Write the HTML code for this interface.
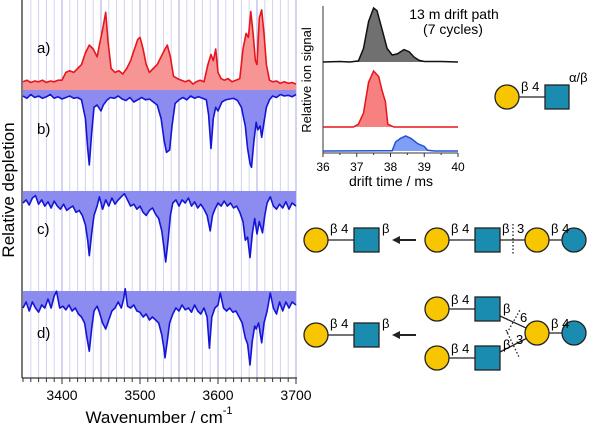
<!DOCTYPE html>
<html><head><meta charset="utf-8"><style>
body{margin:0;background:#fff}
svg{display:block;font-family:"Liberation Sans",sans-serif}
</style></head><body>
<svg id="fig" width="600" height="429" viewBox="0 0 600 429">
<g id="grid"></g>
<g id="spec"></g>
<g id="axes"></g>
<g id="drift"></g>
<text x="14" y="190" font-size="17" text-anchor="middle" transform="rotate(-90 14 190)">Relative depletion</text>
<text x="159" y="423" font-size="17" text-anchor="middle">Wavenumber / cm<tspan dy="-9" font-size="11">-1</tspan></text>
<text x="37" y="53" font-size="15">a)</text>
<text x="37" y="134" font-size="15">b)</text>
<text x="37" y="234" font-size="15">c)</text>
<text x="37" y="338" font-size="15">d)</text>
<g id="glycans" stroke="#222" stroke-width="1.3" font-size="13">
 <line x1="507" y1="97" x2="548" y2="97"/>
 <circle cx="507" cy="97" r="12" fill="#f7c600"/>
 <rect x="545" y="85" width="24" height="24" fill="#1a8cb0"/>
 <text x="521" y="91" stroke="none">β 4</text>
 <text x="569" y="82" stroke="none">α/β</text>
 <line x1="316" y1="240" x2="356" y2="240"/>
 <circle cx="316" cy="240" r="12" fill="#f7c600"/>
 <rect x="354" y="228" width="25" height="24" fill="#1a8cb0"/>
 <text x="330" y="233" stroke="none">β 4</text>
 <text x="382" y="233" stroke="none">β</text>
 <line x1="416" y1="240" x2="398" y2="240" stroke-width="2"/>
 <polygon points="392,240 400,236 400,244" fill="#222" stroke="none"/>
 <line x1="437" y1="240" x2="574" y2="240"/>
 <circle cx="437" cy="240" r="12" fill="#f7c600"/>
 <rect x="475" y="228" width="25" height="24" fill="#1a8cb0"/>
 <circle cx="537" cy="240" r="12" fill="#f7c600"/>
 <circle cx="574" cy="240" r="12" fill="#1a8cb0"/>
 <line x1="513" y1="224" x2="513" y2="255" stroke-dasharray="1.5,2"/>
 <text x="451" y="233" stroke="none">β 4</text>
 <text x="502" y="233" stroke="none">β</text>
 <text x="517" y="233" stroke="none">3</text>
 <text x="551" y="233" stroke="none">β 4</text>
 <line x1="316" y1="335" x2="356" y2="335"/>
 <circle cx="316" cy="335" r="12" fill="#f7c600"/>
 <rect x="354" y="323" width="25" height="24" fill="#1a8cb0"/>
 <text x="330" y="328" stroke="none">β 4</text>
 <text x="382" y="328" stroke="none">β</text>
 <line x1="416" y1="335" x2="398" y2="335" stroke-width="2"/>
 <polygon points="392,335 400,331 400,339" fill="#222" stroke="none"/>
 <line x1="437" y1="309" x2="487" y2="309"/>
 <line x1="437" y1="358" x2="487" y2="358"/>
 <line x1="500" y1="316" x2="537" y2="333"/>
 <line x1="500" y1="352" x2="537" y2="333"/>
 <line x1="537" y1="333" x2="574" y2="333"/>
 <circle cx="437" cy="309" r="12" fill="#f7c600"/>
 <rect x="475" y="297" width="25" height="24" fill="#1a8cb0"/>
 <circle cx="437" cy="358" r="12" fill="#f7c600"/>
 <rect x="475" y="346" width="25" height="24" fill="#1a8cb0"/>
 <circle cx="537" cy="333" r="12" fill="#f7c600"/>
 <circle cx="574" cy="333" r="12" fill="#1a8cb0"/>
 <line x1="507" y1="333" x2="520" y2="310" stroke-dasharray="1.5,2"/>
 <line x1="506" y1="330" x2="519" y2="357" stroke-dasharray="1.5,2"/>
 <text x="451" y="304" stroke="none">β 4</text>
 <text x="451" y="353" stroke="none">β 4</text>
 <text x="503" y="313" stroke="none">β</text>
 <text x="520" y="322" stroke="none">6</text>
 <text x="503" y="349" stroke="none">β</text>
 <text x="516" y="344" stroke="none">3</text>
 <text x="551" y="328" stroke="none">β 4</text>
</g>
</svg>
<script>
const NS="http://www.w3.org/2000/svg";
const specA=[[3350,.08],[3355,.1],[3360,.07],[3365,.09],[3370,.08],[3375,.1],[3380,.07],[3385,.09],[3390,.08],[3395,.1],[3400,.1],[3405,.2],[3410,.22],[3415,.2],[3420,.25],[3425,.3],[3430,.45],[3435,.55],[3440,.5],[3445,.4],[3448,.55],[3452,.75],[3456,.97],[3459,.6],[3463,.25],[3468,.2],[3473,.22],[3478,.18],[3483,.25],[3488,.35],[3493,.5],[3497,.62],[3500,.65],[3504,.5],[3508,.3],[3512,.2],[3517,.25],[3522,.3],[3527,.4],[3532,.5],[3535,.55],[3539,.4],[3543,.15],[3548,.12],[3553,.1],[3558,.08],[3563,.1],[3568,.05],[3572,.08],[3577,.1],[3582,.08],[3587,.3],[3591,.43],[3594,.35],[3597,.5],[3600,.2],[3604,.12],[3608,.1],[3613,.12],[3618,.08],[3623,.1],[3628,.12],[3632,.5],[3636,.7],[3639,.65],[3642,.98],[3645,.7],[3648,.35],[3650,.3],[3653,.9],[3656,1.0],[3659,.7],[3662,.3],[3666,.1],[3670,.08],[3675,.09],[3680,.06],[3685,.08],[3690,.06],[3695,.07],[3700,.05]];
const specB=[[3350,0],[3355,.03],[3360,-.02],[3365,.02],[3370,0],[3375,.03],[3380,.01],[3385,-.02],[3390,.03],[3395,.01],[3400,.04],[3405,.02],[3410,0],[3415,.03],[3420,.02],[3425,.05],[3430,.3],[3433,.7],[3435,.92],[3438,.5],[3441,.15],[3445,.12],[3450,.2],[3453,.12],[3458,.05],[3462,.02],[3467,.03],[3472,0],[3477,.04],[3482,.06],[3487,.02],[3492,.08],[3497,.05],[3502,.02],[3507,.05],[3512,.04],[3517,.08],[3522,.12],[3527,.3],[3531,.6],[3534,.75],[3538,.72],[3541,.4],[3545,.1],[3550,.05],[3555,.02],[3560,.05],[3565,0],[3570,.03],[3575,.01],[3580,.03],[3585,.05],[3588,.25],[3591,.7],[3594,.3],[3597,.15],[3600,.2],[3605,.08],[3610,.05],[3615,.04],[3620,.03],[3625,.06],[3630,.15],[3635,.4],[3638,.7],[3641,.9],[3643,.95],[3646,.6],[3649,.35],[3651,.45],[3654,.4],[3656,.55],[3659,.35],[3662,.15],[3666,.05],[3670,0],[3675,.02],[3680,-.02],[3685,0],[3690,-.01],[3695,.01],[3700,-.02]];
const specC=[[3350,0],[3354,-.05],[3358,.03],[3362,-.08],[3366,-.12],[3370,.02],[3374,-.05],[3378,.05],[3382,-.02],[3386,.08],[3390,-.03],[3394,.05],[3398,.1],[3402,.02],[3406,.12],[3410,.08],[3414,.05],[3418,.15],[3422,.12],[3426,.2],[3430,.35],[3433,.6],[3435,.85],[3438,.5],[3441,.2],[3445,.05],[3448,-.1],[3452,.1],[3456,-.05],[3460,.05],[3464,-.08],[3468,.02],[3472,-.05],[3476,-.1],[3480,-.15],[3484,-.05],[3488,.05],[3492,.02],[3496,.1],[3500,.05],[3504,.15],[3508,.2],[3512,.12],[3516,.08],[3520,.18],[3524,.25],[3528,.45],[3531,.75],[3533,.95],[3536,.6],[3539,.2],[3542,0],[3546,-.05],[3550,.05],[3554,-.05],[3558,0],[3562,-.08],[3566,.05],[3570,-.02],[3574,.08],[3578,.02],[3582,.1],[3586,.2],[3590,.45],[3593,.2],[3596,.1],[3600,0],[3604,.05],[3608,-.03],[3612,.05],[3616,0],[3620,.08],[3624,.05],[3628,.15],[3632,.3],[3635,.6],[3638,.55],[3641,.88],[3644,.5],[3647,.25],[3650,.5],[3653,.3],[3657,.48],[3660,.2],[3663,0],[3667,-.1],[3671,.05],[3675,.1],[3679,.02],[3683,.08],[3687,-.02],[3691,.1],[3695,0],[3700,.05]];
const specD=[[3350,.05],[3354,-.05],[3358,.1],[3362,-.05],[3366,.05],[3370,.12],[3374,0],[3378,.05],[3382,-.1],[3386,.05],[3390,-.15],[3393,-.23],[3397,.05],[3401,.02],[3405,.08],[3409,0],[3413,.1],[3417,.05],[3421,.15],[3425,.2],[3429,.3],[3432,.55],[3435,.77],[3438,.4],[3441,.1],[3445,.02],[3448,.12],[3452,.3],[3456,.4],[3460,.25],[3464,.1],[3468,.05],[3472,-.05],[3476,.05],[3479,-.1],[3481,-.27],[3484,.02],[3488,.05],[3492,0],[3496,.1],[3500,.12],[3504,.2],[3508,.15],[3512,.25],[3516,.2],[3520,.25],[3524,.3],[3528,.5],[3531,.75],[3532,.88],[3535,.6],[3538,.3],[3542,.15],[3546,.05],[3550,.1],[3554,0],[3558,.08],[3562,.05],[3566,.12],[3570,0],[3574,.1],[3578,.15],[3582,.05],[3586,.2],[3589,.72],[3592,.2],[3596,.05],[3600,0],[3603,-.2],[3607,.05],[3611,.1],[3615,.05],[3619,.12],[3623,.1],[3627,.2],[3631,.3],[3635,.55],[3638,.65],[3641,1.0],[3644,.6],[3647,.35],[3649,.4],[3652,.3],[3656,.63],[3659,.3],[3663,.1],[3667,-.2],[3671,.05],[3675,.15],[3679,-.05],[3683,.1],[3687,-.05],[3691,.05],[3695,-.05],[3700,0]];
const driftBlack=[[36,0],[36.5,.01],[36.8,0],[37.05,.02],[37.2,.25],[37.35,.75],[37.5,1.0],[37.6,.95],[37.75,.6],[37.9,.25],[38.05,.13],[38.2,.15],[38.4,.23],[38.55,.19],[38.7,.09],[38.85,.03],[39,.01],[39.5,.01],[40,0]];
const driftRed=[[36,0],[36.9,0],[37.05,.05],[37.2,.25],[37.35,.8],[37.5,1.0],[37.65,.9],[37.75,.65],[37.85,.45],[37.92,.05],[38.1,0],[40,0]];
const driftBlue=[[36,0],[38.05,.02],[38.15,.6],[38.3,.85],[38.45,1.0],[38.6,.85],[38.8,.5],[39.0,.3],[39.1,.05],[39.3,0],[40,0]];
const xTicks=[3400,3500,3600,3700];
const driftTicks=[36,37,38,39,40];

const xs=w=>23+(w-3350)*0.78;
const dx=t=>323+(t-36)*33.75;
function el(tag,attrs,parent){const e=document.createElementNS(NS,tag);for(const k in attrs)e.setAttribute(k,attrs[k]);parent.appendChild(e);return e;}
const grid=document.getElementById('grid');
for(let w=3360;w<=3700;w+=10){
 const l=el('line',{x1:xs(w),x2:xs(w),y1:0,y2:378,stroke:w%50===0?'#a9a9e6':'#d2d2f2','stroke-width':1},grid);
 
 
}
const spec=document.getElementById('spec');
function drawSpec(data,base,ref,scale,fill,stroke,name,up){
 const pts=data.map(([w,v])=>[xs(w),up?base-v*scale:base+v*scale]);
 const line=pts.map(p=>p[0].toFixed(1)+','+p[1].toFixed(1)).join(' ');
 const a=el('polygon',{points:xs(3350)+','+ref+' '+line+' '+xs(3700)+','+ref,fill:fill,stroke:'none'},spec);
 
 
 const p=el('polyline',{points:line,fill:'none',stroke:stroke,'stroke-width':1.6,'stroke-linejoin':'round'},spec);
 
 
}
drawSpec(specA,88,90,78,'#f79595','#e8141b','spectrum-a',true);
drawSpec(specB,96,90,75,'#8c8cf0','#1414d6','spectrum-b',false);
drawSpec(specC,203,191,62,'#8c8cf0','#1414d6','spectrum-c',false);
drawSpec(specD,305,291,60,'#8c8cf0','#1414d6','spectrum-d',false);
const axes=document.getElementById('axes');
el('line',{x1:22,x2:22,y1:0,y2:378,stroke:'#333','stroke-width':1.3},axes);
el('line',{x1:22,x2:297,y1:378,y2:378,stroke:'#333','stroke-width':1.3},axes);
for(let w=3350;w<=3700;w+=10){el('line',{x1:xs(w),x2:xs(w),y1:378,y2:w%100===0?384:382,stroke:'#333'},axes);}
xTicks.forEach(t=>{const tx=el('text',{x:xs(t),y:400,'font-size':14,'text-anchor':'middle'},axes);tx.textContent=t;
 
 });
const drift=document.getElementById('drift');
el('line',{x1:323,x2:323,y1:6,y2:153,stroke:'#333'},drift);
el('line',{x1:323,x2:458,y1:153,y2:153,stroke:'#333'},drift);
driftTicks.forEach(t=>{el('line',{x1:dx(t),x2:dx(t),y1:153,y2:157,stroke:'#333'},drift);
 const tx=el('text',{x:dx(t),y:171,'font-size':12,'text-anchor':'middle'},drift);tx.textContent=t;
 
 });
for(let t=36.5;t<40;t+=1)el('line',{x1:dx(t),x2:dx(t),y1:153,y2:155,stroke:'#333'},drift);
function drawDrift(data,base,scale,fill,stroke,name){
 const line=data.map(([t,v])=>dx(t).toFixed(1)+','+(base-v*scale).toFixed(1)).join(' ');
 const a=el('polygon',{points:dx(36)+','+base+' '+line+' '+dx(40)+','+base,fill:fill},drift);
 
 
 const p=el('polyline',{points:line,fill:'none',stroke:stroke,'stroke-width':1.5},drift);
 
 
}
drawDrift(driftBlack,62,54,'#707070','#111','drift-black');
drawDrift(driftRed,127,56,'#f78080','#e8141b','drift-red');
drawDrift(driftBlue,151,15,'#7f9ef5','#2850d8','drift-blue');
let t=el('text',{x:311,y:80,'font-size':13,'text-anchor':'middle',transform:'rotate(-90 311 80)'},drift);t.textContent='Relative ion signal';

t=el('text',{x:391,y:186,'font-size':14,'text-anchor':'middle'},drift);t.textContent='drift time / ms';

t=el('text',{x:454,y:19,'font-size':14,'text-anchor':'middle'},drift);t.textContent='13 m drift path';

t=el('text',{x:453,y:34,'font-size':14,'text-anchor':'middle'},drift);t.textContent='(7 cycles)';

</script>
</body></html>
